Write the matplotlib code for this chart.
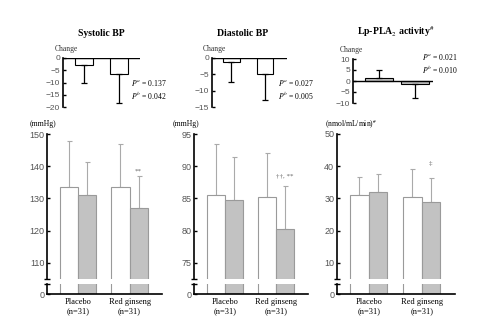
import matplotlib
matplotlib.use("Agg")
import matplotlib.pyplot as plt
import numpy as np

plt.rcParams['mathtext.fontset'] = 'stix'

# ---------------- data ----------------
groups = ["Placebo\n(n=31)", "Red ginseng\n(n=31)"]

# change panels (Placebo, Red ginseng)
sys_change = [-2.8, -6.5]
sys_change_err = [7.6, 11.9]
dia_change = [-1.2, -5.0]
dia_change_err = [6.0, 7.8]
lp_change = [1.2, -1.5]
lp_change_err = [3.8, 6.0]

sys_p = ["0.137", "0.042"]
dia_p = ["0.027", "0.005"]
lp_p = ["0.021", "0.010"]

# baseline (white) and after (gray) values
sys_before = [133.7, 133.4]
sys_before_err = [14.0, 13.4]
sys_after = [131.1, 127.0]
sys_after_err = [10.1, 10.0]

dia_before = [85.6, 85.3]
dia_before_err = [7.8, 6.7]
dia_after = [84.7, 80.3]
dia_after_err = [6.7, 6.6]

lp_before = [31.0, 30.3]
lp_before_err = [5.5, 8.8]
lp_after = [32.1, 28.9]
lp_after_err = [5.4, 7.4]

W, H = 500, 330
fig = plt.figure(figsize=(W / 100, H / 100), dpi=100)

SERIF = "Liberation Serif"
SANS = "Liberation Sans"
TICKC = "#555555"
GRAY = "#c2c2c2"
EDGE = "#9a9a9a"


def rect(x0, yt, x1, yb):
    return [x0 / W, (H - yb) / H, (x1 - x0) / W, (yb - yt) / H]


def ftext(x, y, s, **kw):
    fig.text(x / W, 1 - y / H, s, **kw)


def style_left(ax, lw=1.2, size=6):
    for s in ["top", "right", "bottom"]:
        ax.spines[s].set_visible(False)
    ax.spines["left"].set_linewidth(lw)
    ax.tick_params(axis="y", direction="in", length=2.5, width=1.0,
                   labelsize=size, labelcolor=TICKC, pad=2)
    for t in ax.get_yticklabels():
        t.set_fontfamily(SANS)
    ax.set_xticks([])


# ---------------- change panels ----------------
def change_panel(rect_px, vals, errs, ylim, yticks, width, xlim, fill, title,
                 title_xy, change_xy, pvals, p_xy):
    ax = fig.add_axes(rect(*rect_px))
    x = np.arange(len(vals))
    ax.bar(x, vals, width=width, color=fill, edgecolor="black", linewidth=0.8,
           zorder=2)
    lower = [e if v < 0 else 0 for v, e in zip(vals, errs)]
    upper = [e if v >= 0 else 0 for v, e in zip(vals, errs)]
    ax.errorbar(x, vals, yerr=[lower, upper], fmt="none", ecolor="black",
                elinewidth=0.9, capsize=2.5, capthick=0.9, zorder=3)
    ax.axhline(0, color="black", lw=1.0, zorder=4)
    ax.set_ylim(*ylim)
    ax.set_xlim(*xlim)
    ax.set_yticks(yticks)
    ax.set_yticklabels([str(t).replace("-", "\u2212") for t in yticks])
    style_left(ax, size=6)
    ftext(*title_xy, title, ha="center", va="center", fontsize=7,
          fontweight="bold", family=SERIF)
    ftext(*change_xy, "Change", ha="left", va="center", fontsize=5.5,
          family=SERIF, color="#333333")
    ftext(p_xy[0], p_xy[1], r"$P^{a}$ = " + pvals[0], ha="left", va="center",
          fontsize=5.5, family=SERIF)
    ftext(p_xy[0], p_xy[1] + 13, r"$P^{b}$ = " + pvals[1], ha="left",
          va="center", fontsize=5.5, family=SERIF)
    return ax


change_panel((63, 58, 140, 107), sys_change, sys_change_err, (-20, 0),
             [0, -5, -10, -15, -20], 0.51, (-0.6, 1.6), "white",
             "Systolic BP", (101, 33), (55, 49), sys_p, (131, 83))
change_panel((212, 58, 287, 107), dia_change, dia_change_err, (-15, 0),
             [0, -5, -10, -15], 0.5, (-0.58, 1.66), "white",
             "Diastolic BP", (243, 33), (203, 49), dia_p, (278, 83))
change_panel((353, 59, 433, 103), lp_change, lp_change_err, (-10, 10),
             [10, 5, 0, -5, -10], 0.76, (-0.72, 1.5), GRAY,
             r"Lp-PLA$_2$ activity$^{\#}$", (396, 32), (340, 50), lp_p,
             (422, 57))


# ---------------- main panels ----------------
def main_panel(x0, x1, before, berr, after, aerr, ylim, yticks, unit, unit_x,
               note, note_y):
    up = fig.add_axes(rect(x0, 134, x1, 279))
    lo = fig.add_axes(rect(x0, 284, x1, 294))
    x = np.arange(len(before))
    w = 0.35
    for ax in (up, lo):
        ax.bar(x - w / 2, before, width=w, color="white", edgecolor=EDGE,
               linewidth=0.8, zorder=2)
        ax.bar(x + w / 2, after, width=w, color=GRAY, edgecolor=EDGE,
               linewidth=0.8, zorder=2)
        ax.set_xlim(-0.6, 1.63)
    up.errorbar(x - w / 2, before, yerr=[[0, 0], berr], fmt="none",
                ecolor="#aaaaaa", elinewidth=0.8, capsize=1.8, capthick=0.8,
                zorder=1)
    up.errorbar(x + w / 2, after, yerr=[[0, 0], aerr], fmt="none",
                ecolor="#aaaaaa", elinewidth=0.8, capsize=1.8, capthick=0.8,
                zorder=1)
    up.set_ylim(*ylim)
    up.set_yticks(yticks)
    style_left(up, size=6.5)
    # break marks
    up.plot([0], [0], transform=up.transAxes, marker="_", ms=5, mew=1.0,
            color="black", clip_on=False)
    lo.set_ylim(0, 3)
    lo.set_yticks([0])
    style_left(lo, size=6.5)
    lo.spines["bottom"].set_visible(True)
    lo.spines["bottom"].set_linewidth(1.2)
    lo.plot([0], [1], transform=lo.transAxes, marker="_", ms=5, mew=1.0,
            color="black", clip_on=False)
    lo.set_xticks(x)
    lo.set_xticklabels(groups, fontsize=6, family=SERIF, linespacing=1.2)
    lo.tick_params(axis="x", length=0, pad=3)
    ftext(unit_x, 124, unit, ha="left", va="center", fontsize=5.5,
          family=SERIF)
    up.text(1 + w / 2, note_y, note, ha="center", va="center", fontsize=5,
            family=SERIF, color="#666666")


main_panel(47, 162, sys_before, sys_before_err, sys_after, sys_after_err,
           (105, 150), [110, 120, 130, 140, 150], "(mmHg)", 30, "**", 138.6)
main_panel(194, 308, dia_before, dia_before_err, dia_after, dia_after_err,
           (72.5, 95), [75, 80, 85, 90, 95], "(mmHg)", 173,
           "\u2020\u2020, **", 88.4)
main_panel(337, 455, lp_before, lp_before_err, lp_after, lp_after_err,
           (5, 50), [10, 20, 30, 40, 50], r"(nmol/mL/min)$^{\#}$", 325,
           "\u2021", 40.9)

fig.savefig("out.png", dpi=100)
